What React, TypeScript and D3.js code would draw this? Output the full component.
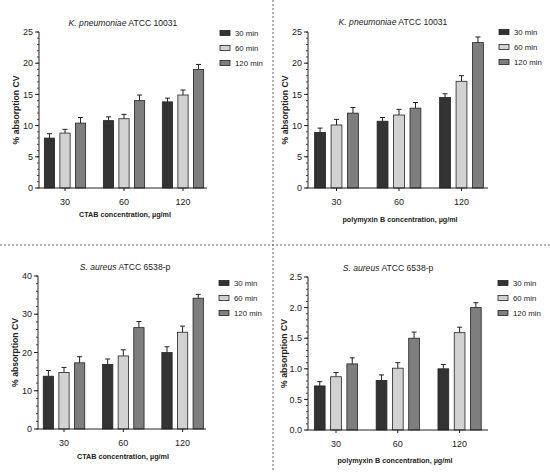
import * as d3 from "d3";

const groups = ["30", "60", "120"];
const series = ["30 min", "60 min", "120 min"];
const seriesColors = ["#333333", "#d2d2d2", "#7e7e7e"];

// values per group: [30 min, 60 min, 120 min]
const kpCtab = [[8.0, 8.8, 10.4], [10.8, 11.1, 14.0], [13.8, 14.9, 19.0]];
const kpCtabErr = [[0.7, 0.6, 0.9], [0.6, 0.7, 0.9], [0.6, 0.8, 0.8]];
const kpPoly = [[8.9, 10.1, 12.0], [10.7, 11.7, 12.8], [14.5, 17.1, 23.3]];
const kpPolyErr = [[0.7, 0.9, 0.9], [0.6, 0.9, 0.9], [0.6, 0.9, 0.9]];
const saCtab = [[13.8, 14.8, 17.3], [16.9, 19.1, 26.5], [20.0, 25.3, 34.2]];
const saCtabErr = [[1.5, 1.3, 1.6], [1.4, 1.6, 1.6], [1.5, 1.6, 1.0]];
const saPoly = [[0.72, 0.87, 1.08], [0.81, 1.01, 1.5], [1.0, 1.59, 2.0]];
const saPolyErr = [[0.07, 0.07, 0.1], [0.09, 0.09, 0.1], [0.07, 0.09, 0.08]];

const kpTicks = [0, 5, 10, 15, 20, 25];
const saCtabTicks = [0, 10, 20, 30, 40];
const saPolyTicks = [0, 0.5, 1.0, 1.5, 2.0, 2.5];

const FONT = "'Liberation Sans', Arial, sans-serif";

interface PanelProps {
  species: string;
  strain: string;
  xLabel: string;
  values: number[][];
  errors: number[][];
  ticks: number[];
  fmt: (v: number) => string;
  axisX: number;
  axisEnd: number;
  top: number;
  bottom: number;
  firstCenter: number;
  step: number;
  titleX: number;
  titleY: number;
  xLabelX: number;
  xLabelY: number;
  yLabelX: number;
  legendX: number;
  legendY: number;
}

function Panel(p: PanelProps) {
  const yMax = p.ticks[p.ticks.length - 1];
  const y = d3.scaleLinear().domain([0, yMax]).range([p.bottom, p.top]);
  const x = d3
    .scaleBand()
    .domain(groups)
    .range([p.firstCenter - p.step / 2, p.firstCenter + p.step * 2.5]);
  const inner = d3
    .scaleBand()
    .domain(series)
    .range([-p.step * 0.35, p.step * 0.35])
    .paddingInner(0.34);
  const majorStep = p.ticks[1] - p.ticks[0];
  const minor = d3.range(0, yMax + 1e-9, majorStep / 5);

  return (
    <g>
      <text x={p.titleX} y={p.titleY} textAnchor="middle" fontSize={8.6} fill="#222">
        <tspan fontStyle="italic">{p.species}</tspan> {p.strain}
      </text>
      {groups.map((g, gi) =>
        series.map((s, si) => {
          const v = p.values[gi][si];
          const e = p.errors[gi][si];
          const cx = x(g)! + x.bandwidth() / 2;
          const bx = cx + inner(s)!;
          const bw = inner.bandwidth();
          const mid = bx + bw / 2;
          return (
            <g key={g + s}>
              <line x1={mid} x2={mid} y1={y(v)} y2={y(v + e)} stroke="#222" strokeWidth={1} />
              <line x1={mid - 2.5} x2={mid + 2.5} y1={y(v + e)} y2={y(v + e)} stroke="#222" strokeWidth={1} />
              <rect
                x={bx}
                y={y(v)}
                width={bw}
                height={y(0) - y(v)}
                fill={seriesColors[si]}
                stroke="#222"
                strokeWidth={0.8}
              />
            </g>
          );
        }),
      )}
      {/* y axis */}
      <line x1={p.axisX} x2={p.axisX} y1={p.top} y2={p.bottom} stroke="#222" strokeWidth={1} />
      {minor.map((t) => (
        <line key={"m" + t} x1={p.axisX - 2} x2={p.axisX} y1={y(t)} y2={y(t)} stroke="#222" strokeWidth={0.8} />
      ))}
      {p.ticks.map((t) => (
        <g key={"t" + t}>
          <line x1={p.axisX - 4} x2={p.axisX} y1={y(t)} y2={y(t)} stroke="#222" strokeWidth={1} />
          <text x={p.axisX - 6} y={y(t) + 3.2} textAnchor="end" fontSize={9} fill="#222">
            {p.fmt(t)}
          </text>
        </g>
      ))}
      {/* x axis */}
      <line x1={p.axisX} x2={p.axisEnd} y1={p.bottom} y2={p.bottom} stroke="#222" strokeWidth={1} />
      {groups.map((g) => {
        const cx = x(g)! + x.bandwidth() / 2;
        return (
          <g key={"x" + g}>
            <line x1={cx} x2={cx} y1={p.bottom} y2={p.bottom + 3} stroke="#222" strokeWidth={1} />
            <text x={cx} y={p.bottom + 17} textAnchor="middle" fontSize={9} fill="#222">
              {g}
            </text>
          </g>
        );
      })}
      <text x={p.xLabelX} y={p.xLabelY} textAnchor="middle" fontSize={7.2} fontWeight="bold" fill="#222">
        {p.xLabel}
      </text>
      <text
        transform={`translate(${p.yLabelX},${(p.top + p.bottom) / 2}) rotate(-90)`}
        textAnchor="middle"
        fontSize={8.6}
        fontWeight="bold"
        fill="#222"
      >
        % absorption CV
      </text>
      {series.map((s, si) => (
        <g key={"l" + s} transform={`translate(${p.legendX},${p.legendY + si * 15})`}>
          <rect x={0} y={-2.5} width={10} height={5} fill={seriesColors[si]} stroke="#222" strokeWidth={0.8} />
          <text x={15} y={3} fontSize={7.8} fill="#222">
            {s}
          </text>
        </g>
      ))}
    </g>
  );
}

const fmtInt = (v: number) => d3.format("d")(v);
const fmtOne = (v: number) => d3.format(".1f")(v);

export default function App() {
  return (
    <div style={{ position: "absolute", left: 0, top: 0 }}>
      <svg width={550} height={475} style={{ display: "block", fontFamily: FONT }}>
        <rect width={550} height={475} fill="#fff" />
        <line x1={273} x2={273} y1={0} y2={470} stroke="#666" strokeWidth={1} strokeDasharray="2,2" />
        <line x1={0} x2={550} y1={245} y2={245} stroke="#666" strokeWidth={1} strokeDasharray="2,2" />
        <Panel
          species="K. pneumoniae"
          strain="ATCC 10031"
          xLabel="CTAB concentration, µg/ml"
          values={kpCtab}
          errors={kpCtabErr}
          ticks={kpTicks}
          fmt={fmtInt}
          axisX={39}
          axisEnd={207}
          top={32}
          bottom={188}
          firstCenter={65}
          step={59}
          titleX={123}
          titleY={26}
          xLabelX={125}
          xLabelY={217}
          yLabelX={19}
          legendX={220}
          legendY={33}
        />
        <Panel
          species="K. pneumoniae"
          strain="ATCC 10031"
          xLabel="polymyxin B concentration, µg/ml"
          values={kpPoly}
          errors={kpPolyErr}
          ticks={kpTicks}
          fmt={fmtInt}
          axisX={308}
          axisEnd={488}
          top={32}
          bottom={188}
          firstCenter={336.5}
          step={62.5}
          titleX={393}
          titleY={25}
          xLabelX={400}
          xLabelY={222}
          yLabelX={288}
          legendX={499}
          legendY={32}
        />
        <Panel
          species="S. aureus"
          strain="ATCC 6538-p"
          xLabel="CTAB concentration, µg/ml"
          values={saCtab}
          errors={saCtabErr}
          ticks={saCtabTicks}
          fmt={fmtInt}
          axisX={38}
          axisEnd={206}
          top={276}
          bottom={429}
          firstCenter={64}
          step={59.3}
          titleX={125}
          titleY={270}
          xLabelX={123}
          xLabelY={459}
          yLabelX={18}
          legendX={219}
          legendY={283}
        />
        <Panel
          species="S. aureus"
          strain="ATCC 6538-p"
          xLabel="polymyxin B concentration, µg/ml"
          values={saPoly}
          errors={saPolyErr}
          ticks={saPolyTicks}
          fmt={fmtOne}
          axisX={308}
          axisEnd={488}
          top={277}
          bottom={430}
          firstCenter={336}
          step={61.8}
          titleX={388}
          titleY={271}
          xLabelX={395}
          xLabelY={463}
          yLabelX={287}
          legendX={498}
          legendY={283}
        />
      </svg>
    </div>
  );
}
